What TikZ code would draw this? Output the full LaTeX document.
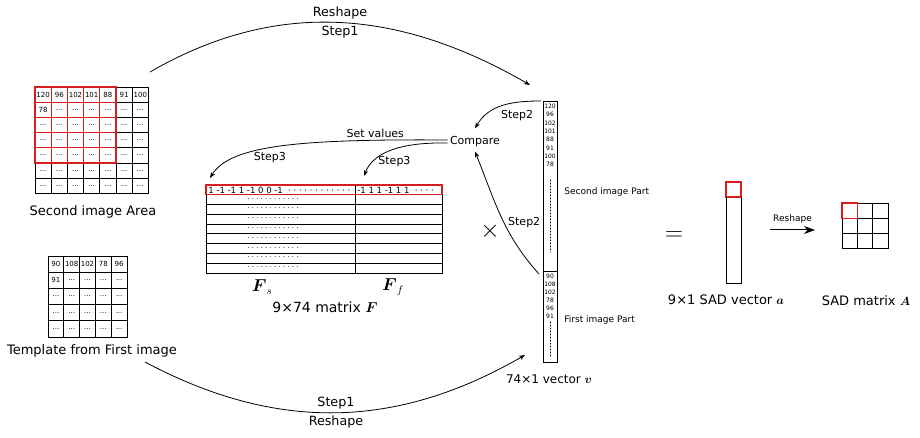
\documentclass[tikz,border=0pt]{standalone}
\usepackage{amsmath}
\usepackage{amsfonts}
\usepackage{fontspec}
\setmainfont{DejaVu Sans}
\usetikzlibrary{positioning, arrows.meta}
\definecolor{cellred}{RGB}{215,30,30}

\begin{document}
\begin{tikzpicture}[x=1pt, y=1pt, line width=0.8pt, line cap=rect, >={Stealth[length=6pt, width=4.5pt]},
   font=\fontsize{13}{15}\selectfont,
   lbl/.style={inner sep=2pt, font=\fontsize{11}{13}\selectfont},
   arclbl/.style={inner sep=2pt, font=\fontsize{12.7}{14}\selectfont},
   small/.style={inner sep=0pt, font=\fontsize{9}{10}\selectfont},
   num/.style={inner sep=0pt, font=\fontsize{7}{8}\selectfont},
   rownum/.style={inner sep=0pt, font=\fontsize{8.5}{9}\selectfont},
   tiny/.style={inner sep=0pt, font=\fontsize{6}{7}\selectfont},
   redcell/.style={draw=cellred, line width=1.1pt}]
   \useasboundingbox (0,0) rectangle (920,-438);

   % second image area, 7x7, red 5x5 part in the corner
   \foreach \k in {0,...,7} {
      \ifnum\k<6
         \draw[redcell] (35,-87-\k*15.2) -- (116,-87-\k*15.2);
         \draw (116,-87-\k*15.2) -- (148.4,-87-\k*15.2);
         \draw[redcell] (35+\k*16.2,-87) -- (35+\k*16.2,-163);
         \draw (35+\k*16.2,-163) -- (35+\k*16.2,-193.4);
      \else
         \draw (35,-87-\k*15.2) -- (148.4,-87-\k*15.2);
         \draw (35+\k*16.2,-87) -- (35+\k*16.2,-193.4);
      \fi}
   \foreach \v [count=\c from 0] in {120,96,102,101,88,91,100}
      \node[num] at (43.1+\c*16.2,-94.6) {\v};
   \foreach \r in {1,...,6} \foreach \c in {0,...,6}
      {\ifnum\r\c=10 \node[num] at (43.1,-109.8) {78};
       \else \node[num] at (43.1+\c*16.2,-94.6-\r*15.2) {...}; \fi}
   \node (area) at (93,-212) {Second image Area};

   % template, 5x5
   \foreach \r in {0,...,4} \foreach \c in {0,...,4}
      \draw (48+\c*15.8,-256-\r*16.2) rectangle ++(15.8,-16.2);
   \foreach \v [count=\c from 0] in {90,108,102,78,96}
      \node[num] at (55.9+\c*15.8,-264.1) {\v};
   \foreach \r in {1,...,4} \foreach \c in {0,...,4}
      {\ifnum\r\c=10 \node[num] at (55.9,-280.3) {91};
       \else \node[num] at (55.9+\c*15.8,-264.1-\r*16.2) {...}; \fi}
   \node (tmpl) at (92,-351) {Template from First image};

   % matrix F
   \draw (206,-194.78) -- (206,-273) -- (442,-273) -- (442,-194.78);
   \foreach \k in {2,...,8} \draw (206,-185-\k*9.78) -- (442,-185-\k*9.78);
   \draw (355,-194.78) -- (355,-273);
   \draw[redcell] (206,-185) rectangle (442,-194.78);
   \draw (355,-185.5) -- (355,-194.3);
   \node[rownum, anchor=west] (fs0) at (208,-190) {1 -1 -1 1 -1 0 0 -1 \ · · · · · · · · · · · ·};
   \node[rownum, anchor=west] (ff0) at (357,-190) {-1 1 1 -1 1 1 \ · · · ·};
   \foreach \k in {1,...,8}
      \node[num] at (273,-190-\k*9.78) {· · · · · · · · · · · ·};
   \node[font=\fontsize{16}{18}\selectfont] (fs) at (262,-287) {$\boldsymbol{F}_s$};
   \node[font=\fontsize{16}{18}\selectfont] (ff) at (393,-287) {$\boldsymbol{F}_f$};
   \node[font=\fontsize{14}{16}\selectfont] (flabel) at (325,-307) {9×74 matrix $\boldsymbol{F}$};

   \node[font=\fontsize{28}{30}\selectfont] (times) at (490,-231) {$\times$};

   % vector v
   \node[draw, minimum width=14pt, minimum height=261pt, inner sep=0pt] (vec) at (550,-231.5) {};
   \draw (543,-271) -- (557,-271);
   \foreach \v [count=\i from 0] in {120,96,102,101,88,91,100,78}
      \node[tiny] at (550,-106.5-\i*8.3) {\v};
   \foreach \v [count=\i from 0] in {90,108,102,78,96,91}
      \node[tiny] at (550,-276-\i*8) {\v};
   \draw[dotted, line width=1pt, line cap=round] (550,-180) -- (550,-252);
   \draw[dotted, line width=1pt, line cap=round] (550,-322) -- (550,-357);
   \node[small, anchor=west] (spart) at (564,-192) {Second image Part};
   \node[small, anchor=west] (fpart) at (564,-320) {First image Part};
   \node[font=\fontsize{12}{14}\selectfont] (vlabel) at (549,-379) {74×1 vector $\boldsymbol{v}$};

   \node[lbl] (cmp) at (475,-142) {Compare};

   % arrows
   \coordinate (s1) at (150,-72);
   \coordinate (e1) at (530,-85);
   \coordinate (s2) at (145,-362);
   \coordinate (e2) at (525,-355);
   \coordinate (t2) at (541,-101);
   \coordinate (b2) at (539,-274);
   \coordinate (f3) at (210,-178);
   \coordinate (g3) at (364,-176);
   \path[->, line cap=butt]
    (s1) edge[out=30, in=150] node[arclbl, above=1pt] {Reshape} node[arclbl, below=1pt] {Step1} (e1)
    (s2) edge[out=-28, in=-150] node[arclbl, above=1pt] {Step1} node[arclbl, below=1pt] {Reshape} (e2)
    (t2) edge[out=180, in=60] node[lbl, pos=0.3, below=6pt] {Step2} ([yshift=6pt]cmp.north)
    (b2) edge[out=132, in=-68] node[lbl, pos=0.45, right=2pt] {Step2} ([yshift=-2pt]cmp.south)
    ;
   \draw[->, line cap=butt] ([yshift=2pt]cmp.west) .. controls (300,-139) and (230,-145) .. (f3)
      node[lbl, pos=0.18, above] {Set values} node[lbl, pos=0.55, below=2pt] {Step3};
   \draw[->, line cap=butt] ([yshift=-1pt]cmp.west) .. controls (395,-142) and (372,-155) .. (g3)
      node[lbl, pos=0.75, right=3pt] {Step3};

   \node[font=\fontsize{28}{30}\selectfont] (eq) at (674,-236) {$=$};

   % SAD vector a
   \draw[redcell] (726,-182) rectangle (741,-197);
   \draw (726,-197.5) -- (726,-283) -- (741,-283) -- (741,-197.5);
   \node (alabel) at (726,-300) {9×1 SAD vector $\boldsymbol{a}$};

   % reshape to matrix A
   \coordinate (r1) at (770,-230);
   \coordinate (r2) at (815,-230);
   \draw[-{Stealth[length=11pt, width=8pt]}, line width=1pt, line cap=butt] (r1) -- node[small, above=6pt] {Reshape} (r2);
   \foreach \k in {0,...,3} {
      \ifnum\k<2
         \draw (857.3,-203-\k*15.3) -- (887.9,-203-\k*15.3);
         \draw (842+\k*15.3,-218.3) -- (842+\k*15.3,-248.9);
      \else
         \draw (842,-203-\k*15.3) -- (887.9,-203-\k*15.3);
         \draw (842+\k*15.3,-203) -- (842+\k*15.3,-248.9);
      \fi}
   \draw[redcell] (842,-203) rectangle ++(15.3,-15.3);
   \node (Alabel) at (866,-301) {SAD matrix $\boldsymbol{A}$};
\end{tikzpicture}
\end{document}
